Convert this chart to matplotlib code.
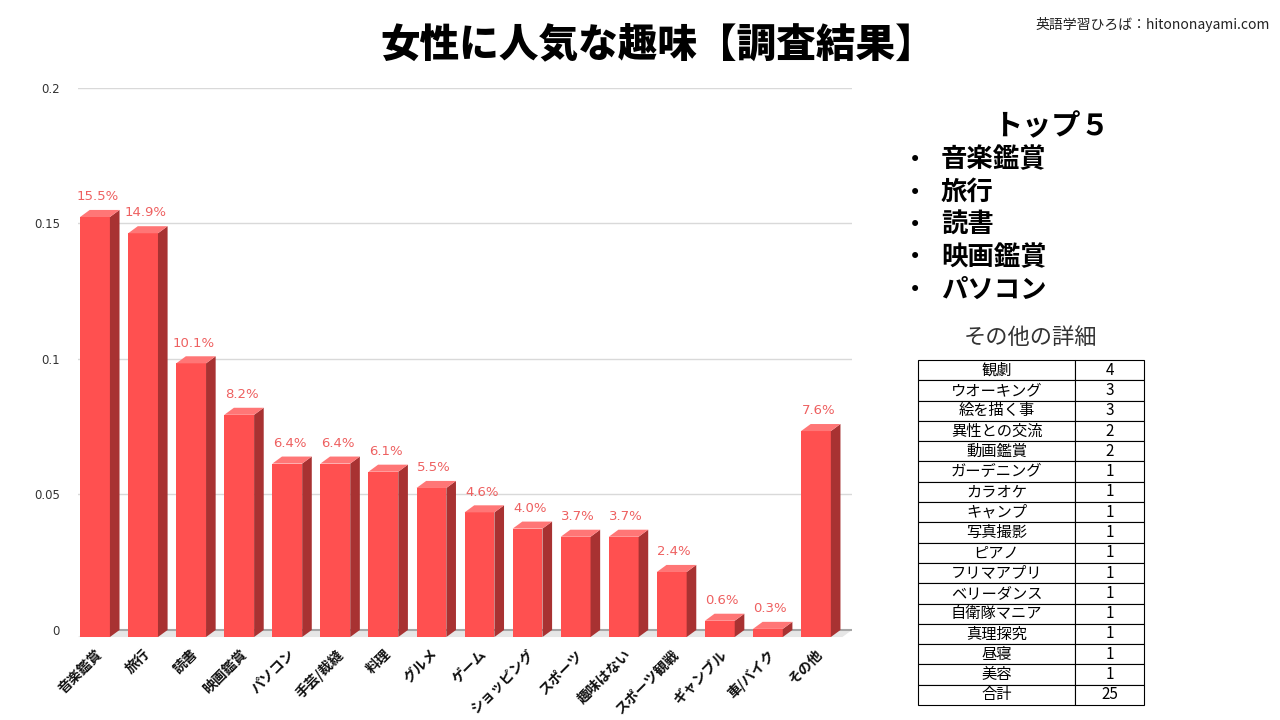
import matplotlib
matplotlib.use("Agg")
import matplotlib.pyplot as plt
from matplotlib.patches import Polygon

plt.rcParams['font.family'] = ['Noto Sans CJK JP', 'DejaVu Sans']

categories = ["音楽鑑賞", "旅行", "読書", "映画鑑賞", "パソコン", "手芸/裁縫", "料理", "グルメ",
              "ゲーム", "ショッピング", "スポーツ", "趣味はない", "スポーツ観戦", "ギャンブル",
              "車/バイク", "その他"]
values = [0.155, 0.149, 0.101, 0.082, 0.064, 0.064, 0.061, 0.055,
          0.046, 0.040, 0.037, 0.037, 0.024, 0.006, 0.003, 0.076]
value_labels = ["15.5%", "14.9%", "10.1%", "8.2%", "6.4%", "6.4%", "6.1%", "5.5%",
                "4.6%", "4.0%", "3.7%", "3.7%", "2.4%", "0.6%", "0.3%", "7.6%"]
yticks = [0, 0.05, 0.1, 0.15, 0.2]
ytick_labels = ["0", "0.05", "0.1", "0.15", "0.2"]

top5_title = "トップ５"
top5 = ["音楽鑑賞", "旅行", "読書", "映画鑑賞", "パソコン"]

other_items = ["観劇", "ウオーキング", "絵を描く事", "異性との交流", "動画鑑賞", "ガーデニング",
               "カラオケ", "キャンプ", "写真撮影", "ピアノ", "フリマアプリ", "ベリーダンス",
               "自衛隊マニア", "真理探究", "昼寝", "美容", "合計"]
other_counts = [4, 3, 3, 2, 2, 1, 1, 1, 1, 1, 1, 1, 1, 1, 1, 1, 25]

FRONT = "#FF5050"
TOP = "#FF7676"
SIDE = "#A83232"
LABEL = "#EE6060"

fig = plt.figure(figsize=(12.8, 7.2), dpi=100)
fig.patch.set_facecolor("white")

ax = fig.add_axes([78/1280, (720-640)/720, (852-78)/1280, (640-88)/720])
ax.set_xlim(-0.354, 15.75)
ax.set_ylim(-0.0037, 0.2)
for s in ax.spines.values():
    s.set_visible(False)

w = 0.31
dx = 0.2
dy = 0.0026

# gridlines
for t in yticks[1:]:
    ax.axhline(t, color="#D9D9D9", lw=1.0, zorder=0)

# floor
x0, x1 = -0.354, 15.75
ax.add_patch(Polygon([(x0, -dy), (x1 - dx, -dy), (x1, 0), (x0 + dx, 0)],
                     closed=True, facecolor="#E6E6E6", edgecolor="none", zorder=0.5))
ax.plot([x0 + dx, x1], [0, 0], color="#A6A6A6", lw=1.5, zorder=0.6)

xs = list(range(len(values)))
ax.bar(xs, [v for v in values], width=2*w, bottom=-dy, color=FRONT, zorder=2)
for i, v in zip(xs, values):
    top = v - dy
    ax.add_patch(Polygon([(i + w, -dy), (i + w + dx, 0), (i + w + dx, v), (i + w, top)],
                         closed=True, facecolor=SIDE, edgecolor="none", zorder=2))
    ax.add_patch(Polygon([(i - w, top), (i - w + dx, v), (i + w + dx, v), (i + w, top)],
                         closed=True, facecolor=TOP, edgecolor="none", zorder=2))

for i, v, lab in zip(xs, values, value_labels):
    ax.text(i + dx/2 - 0.05, v + 0.0025, lab, ha="center", va="bottom",
            fontsize=9.5, color=LABEL, family="DejaVu Sans")

ax.set_yticks(yticks)
ax.set_yticklabels(ytick_labels, fontsize=8.5, color="#333333", family="DejaVu Sans")
ax.tick_params(axis="y", length=0, pad=13)
ax.set_xticks(xs)
ax.set_xticklabels(categories, rotation=45, ha="right", rotation_mode="anchor",
                   fontsize=10, fontweight="bold", color="#111111")
ax.tick_params(axis="x", length=0, pad=5)

# title
fig.text(658/1280, 1 - 45/720, "女性に人気な趣味【調査結果】", ha="center", va="center",
         fontsize=28.5, fontweight="heavy", color="black")
fig.text(1270/1280, 1 - 25/720, "英語学習ひろば：hitononayami.com", ha="right", va="center",
         fontsize=10, color="#222222")

# top5
fig.text(1051/1280, 1 - 126/720, top5_title, ha="center", va="center",
         fontsize=21, fontweight="bold", color="black")
for k, item in enumerate(top5):
    y = 1 - (160 + 32.5*k)/720
    fig.text(915/1280, y, "•", ha="center", va="center", fontsize=15, color="black",
             family="DejaVu Sans")
    fig.text(941/1280, y, item, ha="left", va="center", fontsize=19,
             fontweight="bold", color="black")

fig.text(1030/1280, 1 - 337/720, "その他の詳細", ha="center", va="center",
         fontsize=16, color="#333333")

tax = fig.add_axes([918/1280, (720-705)/720, (1144-918)/1280, (705-360)/720])
tax.axis("off")
cells = [[a, str(b)] for a, b in zip(other_items, other_counts)]
tbl = tax.table(cellText=cells, cellLoc="center", bbox=[0, 0, 1, 1],
                colWidths=[157/226, 69/226])
tbl.auto_set_font_size(False)
for (r, c), cell in tbl.get_celld().items():
    cell.set_fontsize(11)
    cell.set_linewidth(0.8)
    cell.set_edgecolor("black")
    cell.get_text().set_color("black")

fig.savefig("out.png", dpi=100)
